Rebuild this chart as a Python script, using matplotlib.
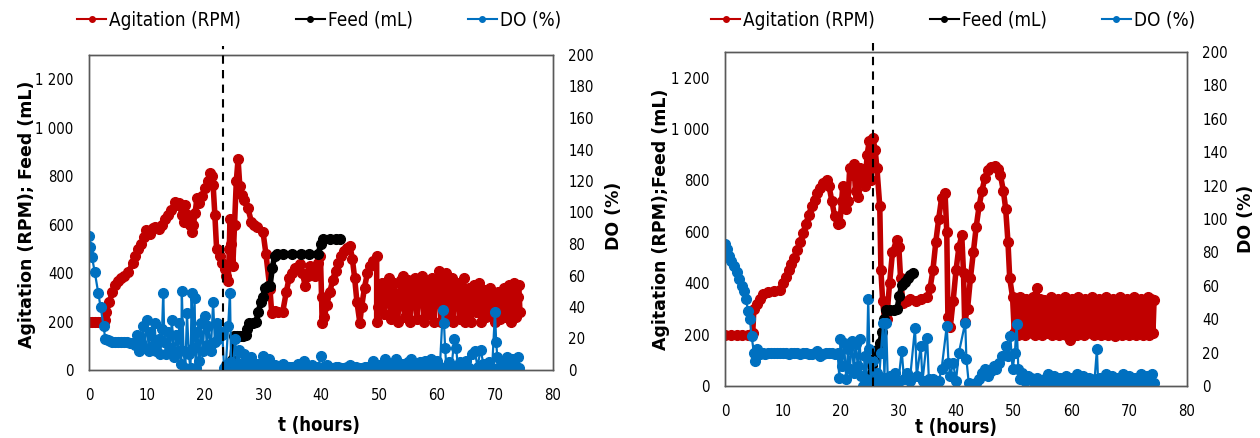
import numpy as np
import matplotlib
matplotlib.use('Agg')
import matplotlib.pyplot as plt
import matplotlib.transforms as mtransforms
from matplotlib import font_manager
from matplotlib.lines import Line2D
from matplotlib.ticker import FuncFormatter

# ---------------- left run ----------------
left_agit = [
    (0, 200), (0.5, 200), (1, 200), (1.5, 200), (2, 200), (2.5, 200), (2.8, 205),
    (3, 240), (3.5, 280), (4, 320), (4.5, 350), (5, 368), (5.5, 380), (6, 390),
    (6.8, 404), (7.5, 440), (8, 470), (8.5, 500), (9, 520), (9.5, 550), (9.9, 576),
    (10.5, 560), (11, 585), (11.4, 592), (12, 580), (12.5, 600), (13.1, 625),
    (13.6, 640), (14.2, 660), (14.8, 694), (15.3, 680), (15.6, 690), (16, 639),
    (16.3, 610), (16.6, 680), (17, 640), (17.4, 600), (17.7, 570), (18, 600),
    (18.3, 650), (18.6, 708), (19, 690), (19.5, 720), (20, 750), (20.5, 780),
    (20.9, 812), (21.2, 800), (21.4, 764), (21.7, 640), (22, 500), (22.5, 470),
    (23, 440), (23.4, 416), (23.7, 390), (24, 368), (24.2, 500), (24.3, 625),
    (24.5, 520), (24.8, 430), (25.1, 600), (25.4, 780), (25.7, 870), (26, 760),
    (26.3, 722), (26.8, 700), (27.4, 667), (28, 612), (28.5, 600), (29, 590),
    (30, 570), (30.5, 480), (31.2, 333), (31.5, 237), (32, 245), (32.5, 240),
    (33.4, 240), (34, 320), (34.5, 380), (35, 400), (35.5, 420), (36, 425),
    (36.4, 437), (36.8, 400), (37.3, 345), (37.7, 390), (38.1, 430), (38.6, 410),
    (39, 390), (39.5, 440), (39.9, 470), (40.1, 300), (40.2, 195), (40.6, 220),
    (41, 270), (41.5, 320), (42, 370), (42.5, 410), (43, 440), (43.5, 470),
    (44, 490), (44.5, 505), (45, 512), (45.4, 460), (45.8, 380), (46.2, 280),
    (46.7, 195), (47, 260), (47.5, 340), (48, 400), (48.5, 430), (49, 450),
    (49.6, 470), (49.6, 200), (49.9, 260), (50.2, 330), (50.5, 360), (50.8, 230),
    (51.1, 280), (51.4, 350), (51.7, 380), (52.0, 210), (52.3, 290), (52.6, 360),
    (52.9, 250), (53.2, 200), (53.5, 300), (53.8, 370), (54.1, 390), (54.4, 220),
    (54.7, 300), (55.0, 370), (55.3, 200), (55.6, 280), (55.9, 350), (56.2, 380),
    (56.5, 210), (56.8, 300), (57.1, 370), (57.4, 390), (57.7, 200), (58.0, 290),
    (58.3, 360), (58.6, 230), (58.9, 320), (59.2, 380), (59.5, 200), (59.8, 300),
    (60.1, 380), (60.4, 410), (60.7, 200), (61.0, 290), (61.3, 370), (61.6, 400),
    (61.9, 220), (62.2, 300), (62.5, 380), (62.8, 200), (63.1, 280), (63.4, 360),
    (63.7, 330), (64.0, 210), (64.3, 300), (64.6, 380), (64.9, 200), (65.2, 290),
    (65.5, 340), (65.8, 200), (66.1, 280), (66.4, 350), (66.7, 240), (67.0, 300),
    (67.3, 360), (67.6, 200), (67.9, 280), (68.2, 330), (68.5, 220), (68.8, 290),
    (69.1, 340), (69.4, 230), (69.7, 300), (70.0, 200), (70.3, 270), (70.6, 320),
    (70.9, 210), (71.2, 280), (71.5, 340), (71.8, 220), (72.1, 300), (72.4, 350),
    (72.7, 200), (73.0, 290), (73.3, 360), (73.6, 220), (73.9, 300), (74.1, 350),
    (74.3, 240),
]

left_feed = [
    (23.5, 0), (23.8, 10), (24.2, 25), (24.6, 40), (25.0, 140), (25.5, 140),
    (26.0, 140), (26.5, 140), (27.0, 145), (27.3, 170), (27.6, 196), (28.2, 196),
    (28.8, 200), (29.2, 240), (29.6, 280), (30.0, 300), (30.3, 340), (30.8, 345),
    (31.2, 345), (31.6, 420), (32.0, 470), (32.4, 480), (33.5, 480), (35.0, 480),
    (36.5, 480), (38.0, 480), (39.5, 480), (40.0, 520), (40.3, 540), (41.5, 540),
    (42.5, 540), (43.3, 540),
]

left_do = [
    (0, 85), (0.2, 78), (0.5, 72), (1, 62), (1.6, 49), (2, 40), (2.5, 28),
    (2.8, 20), (3.2, 19), (3.6, 18.5), (4, 18), (4.5, 18), (5, 17.5), (5.5, 18),
    (6, 18), (6.5, 17.5), (7, 17), (7.5, 17), (7.9, 16), (8.3, 22), (8.6, 12),
    (9, 18), (9.3, 28), (9.6, 14), (10, 32), (10.3, 12), (10.6, 24), (11, 15),
    (11.3, 30), (11.6, 12), (12, 20), (12.3, 10), (12.6, 26), (12.8, 49), (13, 18),
    (13.3, 10), (13.6, 24), (14, 14), (14.3, 32), (14.6, 8), (15, 22), (15.3, 12),
    (15.6, 30), (15.9, 4), (16, 50), (16.3, 12), (16.6, 1), (16.9, 36), (17.2, 10),
    (17.5, 1), (17.7, 49), (17.9, 14), (18.2, 46), (18.4, 1), (18.7, 24), (19, 6),
    (19.3, 30), (19.6, 12), (20, 34), (20.3, 16), (20.6, 28), (21, 12), (21.4, 43),
    (21.7, 18), (22, 30), (22.3, 20), (22.7, 24), (23, 22), (23.3, 1), (23.6, 3),
    (24, 28), (24.3, 49), (24.5, 5), (24.8, 0), (25.2, 20), (25.5, 2), (25.8, 13),
    (26, 4), (26.5, 1), (26.7, 10), (27, 5), (27.5, 2), (28, 8), (28.5, 2),
    (29, 4), (29.5, 1), (30, 9), (30.5, 3), (31, 7), (31.5, 2), (32, 3),
    (32.5, 1), (33, 2), (33.5, 4), (34, 1), (34.5, 2), (35, 2), (35.5, 1),
    (36, 4), (36.5, 2), (37, 6), (37.5, 1), (38, 2), (38.5, 3), (39, 1),
    (39.5, 2), (40, 9), (40.5, 2), (41, 3), (41.5, 1), (42, 1), (42.5, 2),
    (43, 2), (43.5, 1), (44, 1), (44.5, 2), (45, 3), (45.5, 1), (46, 2),
    (46.5, 1), (47, 1), (47.5, 2), (48, 2), (48.5, 1), (49, 6), (49.5, 1),
    (50, 3), (50.5, 2), (51, 7), (51.5, 1), (52, 4), (52.5, 2), (53, 7),
    (53.5, 1), (54, 4), (54.5, 2), (55, 5), (55.5, 7), (56, 1), (56.5, 2),
    (57, 5), (57.5, 2), (58, 6), (58.5, 1), (59, 7), (59.5, 2), (60, 6),
    (60.5, 2), (61, 38), (61.2, 30), (61.4, 14), (61.6, 2), (62, 5), (62.5, 2),
    (63, 20), (63.3, 14), (63.6, 2), (64, 5), (64.5, 2), (65, 6), (65.5, 1),
    (66, 10), (66.5, 12), (67, 2), (67.5, 13), (68, 4), (68.5, 2), (69, 5),
    (69.5, 1), (70, 37), (70.2, 18), (70.4, 8), (70.6, 1), (71, 6), (71.5, 2),
    (72, 8), (72.5, 1), (73, 7), (73.5, 2), (74, 8), (74.2, 1),
]

# ---------------- right run ----------------
right_agit = [
    (0, 200), (1, 200), (2, 200), (3, 200), (4, 200), (4.8, 205), (5, 300),
    (5.5, 320), (6, 340), (6.6, 360), (7.5, 365), (8.5, 370), (9.5, 373),
    (10, 400), (10.5, 425), (11, 450), (11.5, 475), (12, 500), (12.5, 530),
    (13, 560), (13.5, 595), (14, 630), (14.5, 665), (15, 700), (15.5, 725),
    (16, 750), (16.5, 770), (17, 790), (17.6, 800), (18, 780), (18.5, 720),
    (19, 660), (19.5, 630), (19.9, 633), (20.2, 720), (20.4, 780), (20.7, 760),
    (21, 690), (21.3, 720), (21.6, 850), (22, 820), (22.3, 866), (22.6, 760),
    (23, 734), (23.3, 850), (23.6, 800), (24, 830), (24.3, 780), (24.6, 900),
    (25, 955), (25.3, 800), (25.6, 965), (26, 920), (26.3, 850), (26.8, 700),
    (27, 450), (27.3, 330), (27.7, 245), (28, 260), (28.5, 400), (29, 520),
    (29.7, 567), (30.1, 540), (30.4, 420), (30.8, 322), (31.5, 330), (32, 340),
    (33, 330), (34, 340), (35, 345), (35.5, 380), (36, 450), (36.5, 560),
    (37, 650), (37.5, 730), (38.1, 753), (38.4, 600), (38.6, 268), (39, 229),
    (39.5, 330), (40, 450), (40.5, 540), (41, 586), (41.3, 440), (41.5, 250),
    (42, 300), (42.5, 420), (43, 520), (43.5, 620), (44, 700), (44.5, 760),
    (45, 810), (45.5, 840), (46, 852), (46.7, 858), (47.2, 845), (47.7, 820),
    (48.2, 760), (48.6, 690), (49, 560), (49.3, 420), (49.8, 345), (50.1, 205),
    (50.4, 335), (50.7, 200), (51.0, 345), (51.3, 210), (51.6, 330), (51.9, 200),
    (52.2, 340), (52.5, 215), (52.8, 335), (53.1, 205), (53.4, 345), (53.7, 200),
    (54.0, 380), (54.3, 210), (54.6, 340), (54.9, 200), (55.2, 335), (55.5, 205),
    (55.8, 330), (56.1, 210), (56.4, 345), (56.7, 200), (57.0, 335), (57.3, 205),
    (57.6, 340), (57.9, 200), (58.2, 330), (58.5, 210), (58.8, 345), (59.1, 200),
    (59.4, 335), (59.7, 180), (60.0, 340), (60.3, 205), (60.6, 330), (60.9, 200),
    (61.2, 345), (61.5, 210), (61.8, 335), (62.1, 200), (62.4, 340), (62.7, 205),
    (63.0, 330), (63.3, 210), (63.6, 345), (63.9, 200), (64.2, 335), (64.5, 205),
    (64.8, 340), (65.1, 200), (65.4, 330), (65.7, 210), (66.0, 345), (66.3, 200),
    (66.6, 335), (66.9, 205), (67.2, 340), (67.5, 195), (67.8, 330), (68.1, 210),
    (68.4, 345), (68.7, 200), (69.0, 335), (69.3, 205), (69.6, 340), (69.9, 200),
    (70.2, 330), (70.5, 210), (70.8, 345), (71.1, 200), (71.4, 335), (71.7, 205),
    (72.0, 340), (72.3, 200), (72.6, 330), (72.9, 210), (73.2, 345), (73.5, 200),
    (73.8, 340), (74.1, 205), (74.3, 335),
]

right_feed = [
    (24.0, 0), (24.5, 0), (25.0, 40), (25.5, 80), (26.0, 110), (26.3, 140),
    (26.8, 167), (27.2, 210), (27.6, 260), (27.9, 295), (28.5, 295), (29.2, 295),
    (29.8, 300), (30.2, 350), (30.6, 395), (31.2, 405), (31.7, 420), (32.1, 432),
    (32.5, 440),
]

right_do = [
    (0, 85), (0.3, 82), (0.7, 78), (1, 75), (1.5, 72), (2, 68), (2.5, 64),
    (3, 60), (3.3, 57), (3.6, 52), (4, 45), (4.3, 40), (4.6, 30), (5, 20),
    (5.2, 15), (5.5, 22), (6, 19), (6.5, 20), (7, 19), (7.5, 19.5), (8, 20),
    (8.5, 19.5), (9, 19.5), (9.5, 20), (10, 20), (10.5, 19.5), (11, 19),
    (11.5, 19.5), (12, 20), (12.5, 19.5), (13, 19), (13.5, 19.5), (14, 19.5),
    (14.5, 19), (15, 19), (15.5, 20), (16, 21), (16.5, 18), (17, 19), (17.5, 19.5),
    (18, 20), (18.5, 19.5), (19, 19), (19.5, 20), (19.8, 5), (20, 28), (20.3, 12),
    (20.6, 26), (21, 4), (21.3, 22), (21.6, 10), (22, 27), (22.3, 8), (22.6, 25),
    (23, 12), (23.3, 28), (23.6, 6), (23.9, 0), (24.2, 18), (24.5, 4), (24.8, 52),
    (25, 22), (25.3, 0), (25.6, 15), (26, 2), (26.3, 8), (26.6, 1), (27, 20),
    (27.4, 38), (27.6, 5), (27.9, 38), (28.2, 2), (28.6, 6), (29, 3), (29.5, 8),
    (30, 2), (30.6, 21), (31, 4), (31.5, 8), (32, 3), (32.9, 35), (33.2, 6),
    (33.9, 24), (34.2, 3), (35, 29), (35.3, 4), (35.5, 2), (36, 4), (36.5, 2),
    (37, 3), (37.5, 10), (38.4, 36), (38.7, 14), (39, 6), (39.5, 14), (40, 3),
    (40.5, 20), (41.6, 38), (41.8, 16), (42.2, 2), (42.5, 1), (43, 1), (43.5, 2),
    (44, 4), (44.5, 8), (45, 10), (45.5, 6), (46, 9), (46.5, 12), (47, 10),
    (47.5, 14), (48, 18), (48.6, 24), (49, 18), (49.4, 30), (49.8, 10), (50.2, 20),
    (50.5, 37), (50.8, 10), (51, 4), (51.5, 8), (52, 3), (52.5, 6), (53, 5),
    (53.5, 2), (54, 5), (54.5, 3), (55, 3), (55.5, 5), (56, 7), (56.5, 2), (57, 6),
    (57.5, 3), (58, 5), (58.5, 1), (59, 6), (59.5, 3), (60, 5), (60.5, 2), (61, 7),
    (61.5, 2), (62, 6), (62.5, 3), (63, 5), (63.5, 2), (64, 4), (64.4, 22),
    (64.6, 3), (65, 5), (65.5, 2), (66, 7), (66.5, 2), (67, 6), (67.5, 3), (68, 5),
    (68.5, 2), (69, 7), (69.5, 2), (70, 6), (70.5, 3), (71, 5), (71.5, 2), (72, 7),
    (72.5, 3), (73, 6), (73.5, 3), (74, 7), (74.2, 2),
]

left_feed_start = 23.1
right_feed_start = 25.6

RED = '#C00000'
BLUE = '#0070C0'

# narrow face for ticks / legend; pick what is installed
fonts = font_manager.fontManager.ttflist
if any(f.name == 'Liberation Sans Narrow' for f in fonts):
    NARROW, STRETCH, K = 'Liberation Sans Narrow', 'normal', 1.0
elif any(f.name == 'DejaVu Sans' and f.stretch == 'condensed' for f in fonts):
    NARROW, STRETCH, K = 'DejaVu Sans', 'condensed', 0.86
else:
    NARROW, STRETCH, K = 'Roboto', 'normal', 0.86

plt.rcParams['font.family'] = NARROW
plt.rcParams['font.stretch'] = STRETCH


def thousands(v, pos):
    return f'{int(v):,}'.replace(',', ' ')


def panel(rect, agit, feed, do, t_start):
    ax = fig.add_axes(rect)
    ax2 = ax.twinx()
    a = np.array(agit)
    f = np.array(feed)
    d = np.array(do)
    ax.plot(a[:, 0], a[:, 1], color=RED, marker='o', ms=7, lw=4, zorder=2)
    ax.plot(f[:, 0], f[:, 1], color='black', marker='o', ms=7, lw=4, zorder=3)
    ax2.plot(d[:, 0], d[:, 1], color=BLUE, marker='o', ms=7, lw=1.6, zorder=2)
    trans = mtransforms.blended_transform_factory(ax2.transData, ax2.transAxes)
    ax2.plot([t_start, t_start], [0, 1.027], transform=trans, color='black',
             lw=1.5, ls=(0, (4, 3)), clip_on=False, zorder=5)
    ax.set_xlim(0, 80)
    ax.set_xticks(range(0, 81, 10))
    ax.set_ylim(0, 1300)
    ax.set_yticks(range(0, 1201, 200))
    ax.yaxis.set_major_formatter(FuncFormatter(thousands))
    ax2.set_ylim(0, 200)
    ax2.set_yticks(range(0, 201, 20))
    for axis in (ax, ax2):
        axis.tick_params(length=0, labelsize=12.5 * K, pad=11)
        for s in axis.spines.values():
            s.set_color('#595959')
            s.set_linewidth(1)
    ax.tick_params(axis='x', pad=13)
    return ax, ax2


fig = plt.figure(figsize=(12.6, 4.38), dpi=100)
W, H = 1260.0, 438.0

axL, axL2 = panel([89 / W, (H - 370) / H, 464 / W, 315 / H],
                  left_agit, left_feed, left_do, left_feed_start)
axR, axR2 = panel([725 / W, (H - 386) / H, 462 / W, 334 / H],
                  right_agit, right_feed, right_do, right_feed_start)

bold_wide = dict(family='DejaVu Sans', stretch='normal', weight='bold',
                 size=12.5, rotation=90, ha='center', va='center')
fig.text(27 / W, 1 - 214 / H, 'Agitation (RPM); Feed (mL)', **bold_wide)
fig.text(614 / W, 1 - 216 / H, 'DO (%)', **bold_wide)
fig.text(661 / W, 1 - 219 / H, 'Agitation (RPM);Feed (mL)', **bold_wide)
fig.text(1246 / W, 1 - 219 / H, 'DO (%)', **bold_wide)
fig.text(319 / W, 1 - 425 / H, 't (hours)', weight='bold',
         size=15.5 * K, ha='center', va='center')
fig.text(956 / W, 1 - 428 / H, 't (hours)', weight='bold',
         size=15.5 * K, ha='center', va='center')

handles = [
    Line2D([], [], color=RED, marker='o', ms=4, lw=1.5),
    Line2D([], [], color='black', marker='o', ms=4, lw=1.5),
    Line2D([], [], color=BLUE, marker='o', ms=4, lw=1.5),
]
labels = ['Agitation (RPM)', 'Feed (mL)', 'DO (%)']
for xc in (319 / W, 953 / W):
    fig.legend(handles, labels, loc='center', bbox_to_anchor=(xc, 1 - 20 / H),
               ncol=3, frameon=False, fontsize=15.8 * K, handlelength=1.55,
               handletextpad=0.15, columnspacing=2.9)

fig.savefig('out.png', dpi=100)
